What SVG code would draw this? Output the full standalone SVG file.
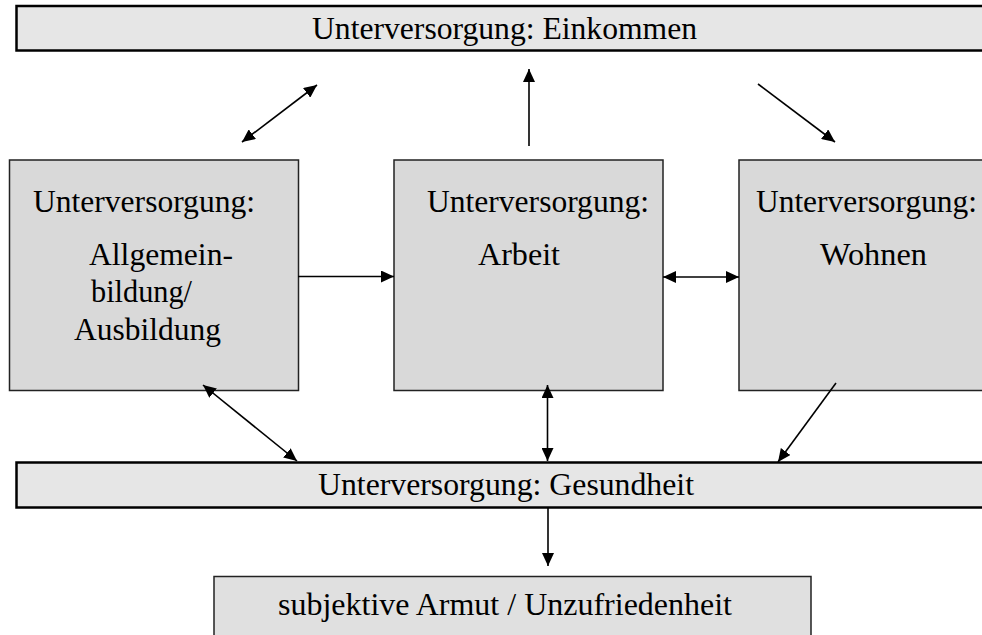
<svg xmlns="http://www.w3.org/2000/svg" width="982" height="635" viewBox="0 0 982 635">
  <style>
    .wide { fill: #e6e6e6; stroke: #000; stroke-width: 2.5; }
    .box { fill: #d9d9d9; stroke: #222; stroke-width: 1.5; }
    .bottom { fill: #e0e0e0; stroke: #222; stroke-width: 1.5; }
    text { font-family: "Liberation Serif", "Times New Roman", serif; font-size: 31px; fill: #000; }
    .conn line { stroke: #000; stroke-width: 1.6; fill: none; }
  </style>
  <defs>
    <marker id="ah" markerUnits="userSpaceOnUse" markerWidth="14" markerHeight="12" refX="13" refY="6" orient="auto-start-reverse" viewBox="0 0 14 12">
      <path d="M0,0 L13,6 L0,12 z" fill="#000"/>
    </marker>
  </defs>

  <g id="einkommen">
    <rect class="wide" x="16.5" y="6" width="980" height="44.5"/>
    <text x="312" y="39" textLength="385" lengthAdjust="spacingAndGlyphs">Unterversorgung: Einkommen</text>
  </g>

  <g id="bildung">
    <rect class="box" x="9.5" y="160" width="289" height="230.5"/>
    <text x="33" y="212" textLength="222" lengthAdjust="spacingAndGlyphs">Unterversorgung:</text>
    <text x="89" y="265" textLength="144" lengthAdjust="spacingAndGlyphs">Allgemein-</text>
    <text x="91" y="302" textLength="101" lengthAdjust="spacingAndGlyphs">bildung/</text>
    <text x="74" y="340" textLength="147" lengthAdjust="spacingAndGlyphs">Ausbildung</text>
  </g>

  <g id="arbeit">
    <rect class="box" x="394" y="160" width="269" height="230.5"/>
    <text x="427" y="212" textLength="222" lengthAdjust="spacingAndGlyphs">Unterversorgung:</text>
    <text x="478" y="265" textLength="82" lengthAdjust="spacingAndGlyphs">Arbeit</text>
  </g>

  <g id="wohnen">
    <rect class="box" x="739" y="160" width="260" height="230.5"/>
    <text x="756" y="212" textLength="221" lengthAdjust="spacingAndGlyphs">Unterversorgung:</text>
    <text x="820" y="265" textLength="107" lengthAdjust="spacingAndGlyphs">Wohnen</text>
  </g>

  <g id="gesundheit">
    <rect class="wide" x="16.5" y="462.5" width="980" height="45"/>
    <text x="318" y="495" textLength="376" lengthAdjust="spacingAndGlyphs">Unterversorgung: Gesundheit</text>
  </g>

  <g id="armut">
    <rect class="bottom" x="214" y="576.5" width="597" height="70"/>
    <text x="278" y="615" textLength="454" lengthAdjust="spacingAndGlyphs">subjektive Armut / Unzufriedenheit</text>
  </g>

  <g id="connectors" class="conn">
    <line x1="242" y1="142" x2="317" y2="85" marker-start="url(#ah)" marker-end="url(#ah)"/>
    <line x1="529" y1="146" x2="529" y2="69" marker-end="url(#ah)"/>
    <line x1="758" y1="84" x2="835" y2="142" marker-end="url(#ah)"/>
    <line x1="298" y1="276.5" x2="394" y2="276.5" marker-end="url(#ah)"/>
    <line x1="663" y1="277" x2="739" y2="277" marker-start="url(#ah)" marker-end="url(#ah)"/>
    <line x1="203" y1="385" x2="297" y2="461" marker-start="url(#ah)" marker-end="url(#ah)"/>
    <line x1="547.5" y1="385" x2="547.5" y2="461" marker-start="url(#ah)" marker-end="url(#ah)"/>
    <line x1="836" y1="383" x2="778" y2="462" marker-end="url(#ah)"/>
    <line x1="548" y1="508" x2="548" y2="566" marker-end="url(#ah)"/>
  </g>
</svg>
